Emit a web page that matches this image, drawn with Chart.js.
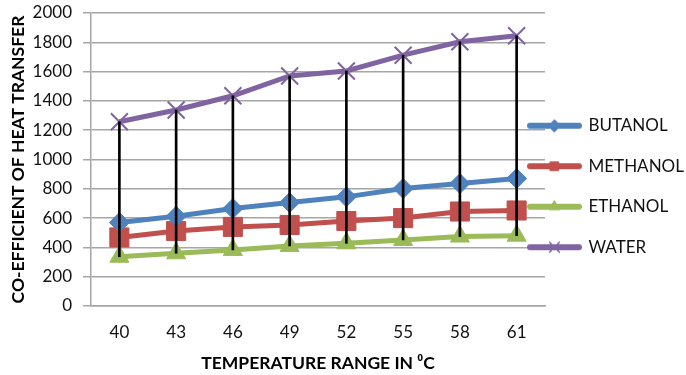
<!DOCTYPE html>
<html>
<head>
<meta charset="utf-8">
<script src="https://cdn.jsdelivr.net/npm/chart.js@4/dist/chart.umd.min.js"></script>
<style>
html,body{margin:0;padding:0;background:#fff;}
#wrap{width:686px;height:375px;position:relative;}
</style>
</head>
<body>
<div id="wrap"><canvas id="c" width="686" height="375"></canvas></div>
<script>
const categories = ['40', '43', '46', '49', '52', '55', '58', '61'];
const butanol  = [570, 612, 665, 706, 745, 802, 836, 870];
const methanol = [468, 512, 540, 553, 580, 600, 645, 652];
const ethanol  = [336, 360, 383, 410, 428, 451, 474, 480];
const water    = [1258, 1338, 1435, 1570, 1604, 1712, 1804, 1845];
const seriesNames = ['BUTANOL', 'METHANOL', 'ETHANOL', 'WATER'];
const yTitle = 'CO-EFFICIENT OF HEAT TRANSFER';
const xTitle = 'TEMPERATURE RANGE IN \u2070C';

const colors = ['#4F81BD', '#C0504D', '#9BBB59', '#8064A2'];
const styles = ['rectRot', 'rect', 'triangle', 'crossRot'];

// high-low lines built from the series
const highLow = categories.map((_, i) => {
  const vals = [butanol[i], methanol[i], ethanol[i], water[i]];
  return [Math.min(...vals), Math.max(...vals)];
});

function legendIcon(color, style) {
  const c = document.createElement('canvas');
  c.width = 62; c.height = 20;
  const g = c.getContext('2d');
  g.strokeStyle = color; g.lineWidth = 6; g.lineCap = 'round';
  g.beginPath(); g.moveTo(9, 10); g.lineTo(58, 10); g.stroke();
  g.fillStyle = color; g.strokeStyle = color;
  g.lineWidth = style === 'crossRot' ? 1.5 : 1;
  Chart.helpers.drawPoint(g, {pointStyle: style, radius: style === 'crossRot' ? 7 : 6, borderWidth: g.lineWidth}, 33.5, 10);
  if (style !== 'crossRot') g.fill();
  return c;
}

const lineSeries = [butanol, methanol, ethanol, water];
const datasets = lineSeries.map((d, i) => ({
  type: 'line',
  label: seriesNames[i],
  data: d,
  borderColor: colors[i],
  backgroundColor: colors[i],
  borderWidth: 5,
  tension: 0,
  pointStyle: styles[i],
  pointRadius: [10, 13.5, 11, 12][i],
  pointBackgroundColor: colors[i],
  pointBorderColor: colors[i],
  pointBorderWidth: i === 3 ? 2 : 1,
  order: 1
}));
datasets.push({
  type: 'bar',
  label: 'hl',
  data: highLow,
  backgroundColor: '#000',
  borderWidth: 0,
  barThickness: 2,
  order: 0
});

const legendShift = {
  id: 'legendShift',
  beforeLayout(chart) {
    const l = chart.legend;
    if (l && !l._patched) {
      const orig = l.fit;
      l.fit = function () { orig.call(this); this.width = 141; };
      l._patched = true;
    }
  },
  afterLayout(chart) {
    const l = chart.legend;
    l.left = 500.5; l.right = chart.width;
    l.top -= 7; l.bottom -= 7;
  }
};

new Chart(document.getElementById('c'), {
  type: 'line',
  data: {labels: categories, datasets},
  plugins: [legendShift],
  options: {
    responsive: false,
    animation: false,
    layout: {autoPadding: false, padding: {top: 13, right: 0, left: 8, bottom: 1}},
    plugins: {
      tooltip: {enabled: false},
      legend: {
        position: 'right',
        labels: {
          font: {family: 'Lato', size: 17},
          color: '#111',
          padding: 23.5,
          usePointStyle: true,
          pointStyleWidth: 56,
          filter: (item) => item.text !== 'hl',
          generateLabels(chart) {
            const items = Chart.defaults.plugins.legend.labels.generateLabels(chart);
            return items.map(it => {
              const idx = seriesNames.indexOf(it.text);
              if (idx >= 0) it.pointStyle = legendIcon(colors[idx], styles[idx]);
              return it;
            });
          }
        }
      }
    },
    scales: {
      x: {
        offset: true,
        grid: {display: true, drawOnChartArea: false, drawTicks: false},
        border: {display: true, color: '#a6a6a6', width: 1.5},
        ticks: {font: {family: 'Lato', size: 17}, color: '#111', padding: 16},
        title: {display: true, text: xTitle, font: {family: 'Lato', size: 17.5, weight: 'bold'}, color: '#000', padding: {top: 0, bottom: 0}},
        afterFit(scale) { scale.height = 68; }
      },
      y: {
        min: 0, max: 2000,
        ticks: {stepSize: 200, font: {family: 'Lato', size: 17}, color: '#111', padding: 11, callback: (v) => String(v)},
        grid: {color: '#a6a6a6', lineWidth: 1.5, tickLength: 8},
        border: {display: true, color: '#a6a6a6', width: 1.5},
        title: {display: true, text: yTitle, font: {family: 'Lato', size: 17.5, weight: 'bold'}, color: '#000', padding: {top: 0, bottom: 0}},
        afterFit(scale) { scale.width = 83; scale.paddingTop = 0; scale.paddingBottom = 0; }
      }
    }
  }
});
</script>
</body>
</html>
